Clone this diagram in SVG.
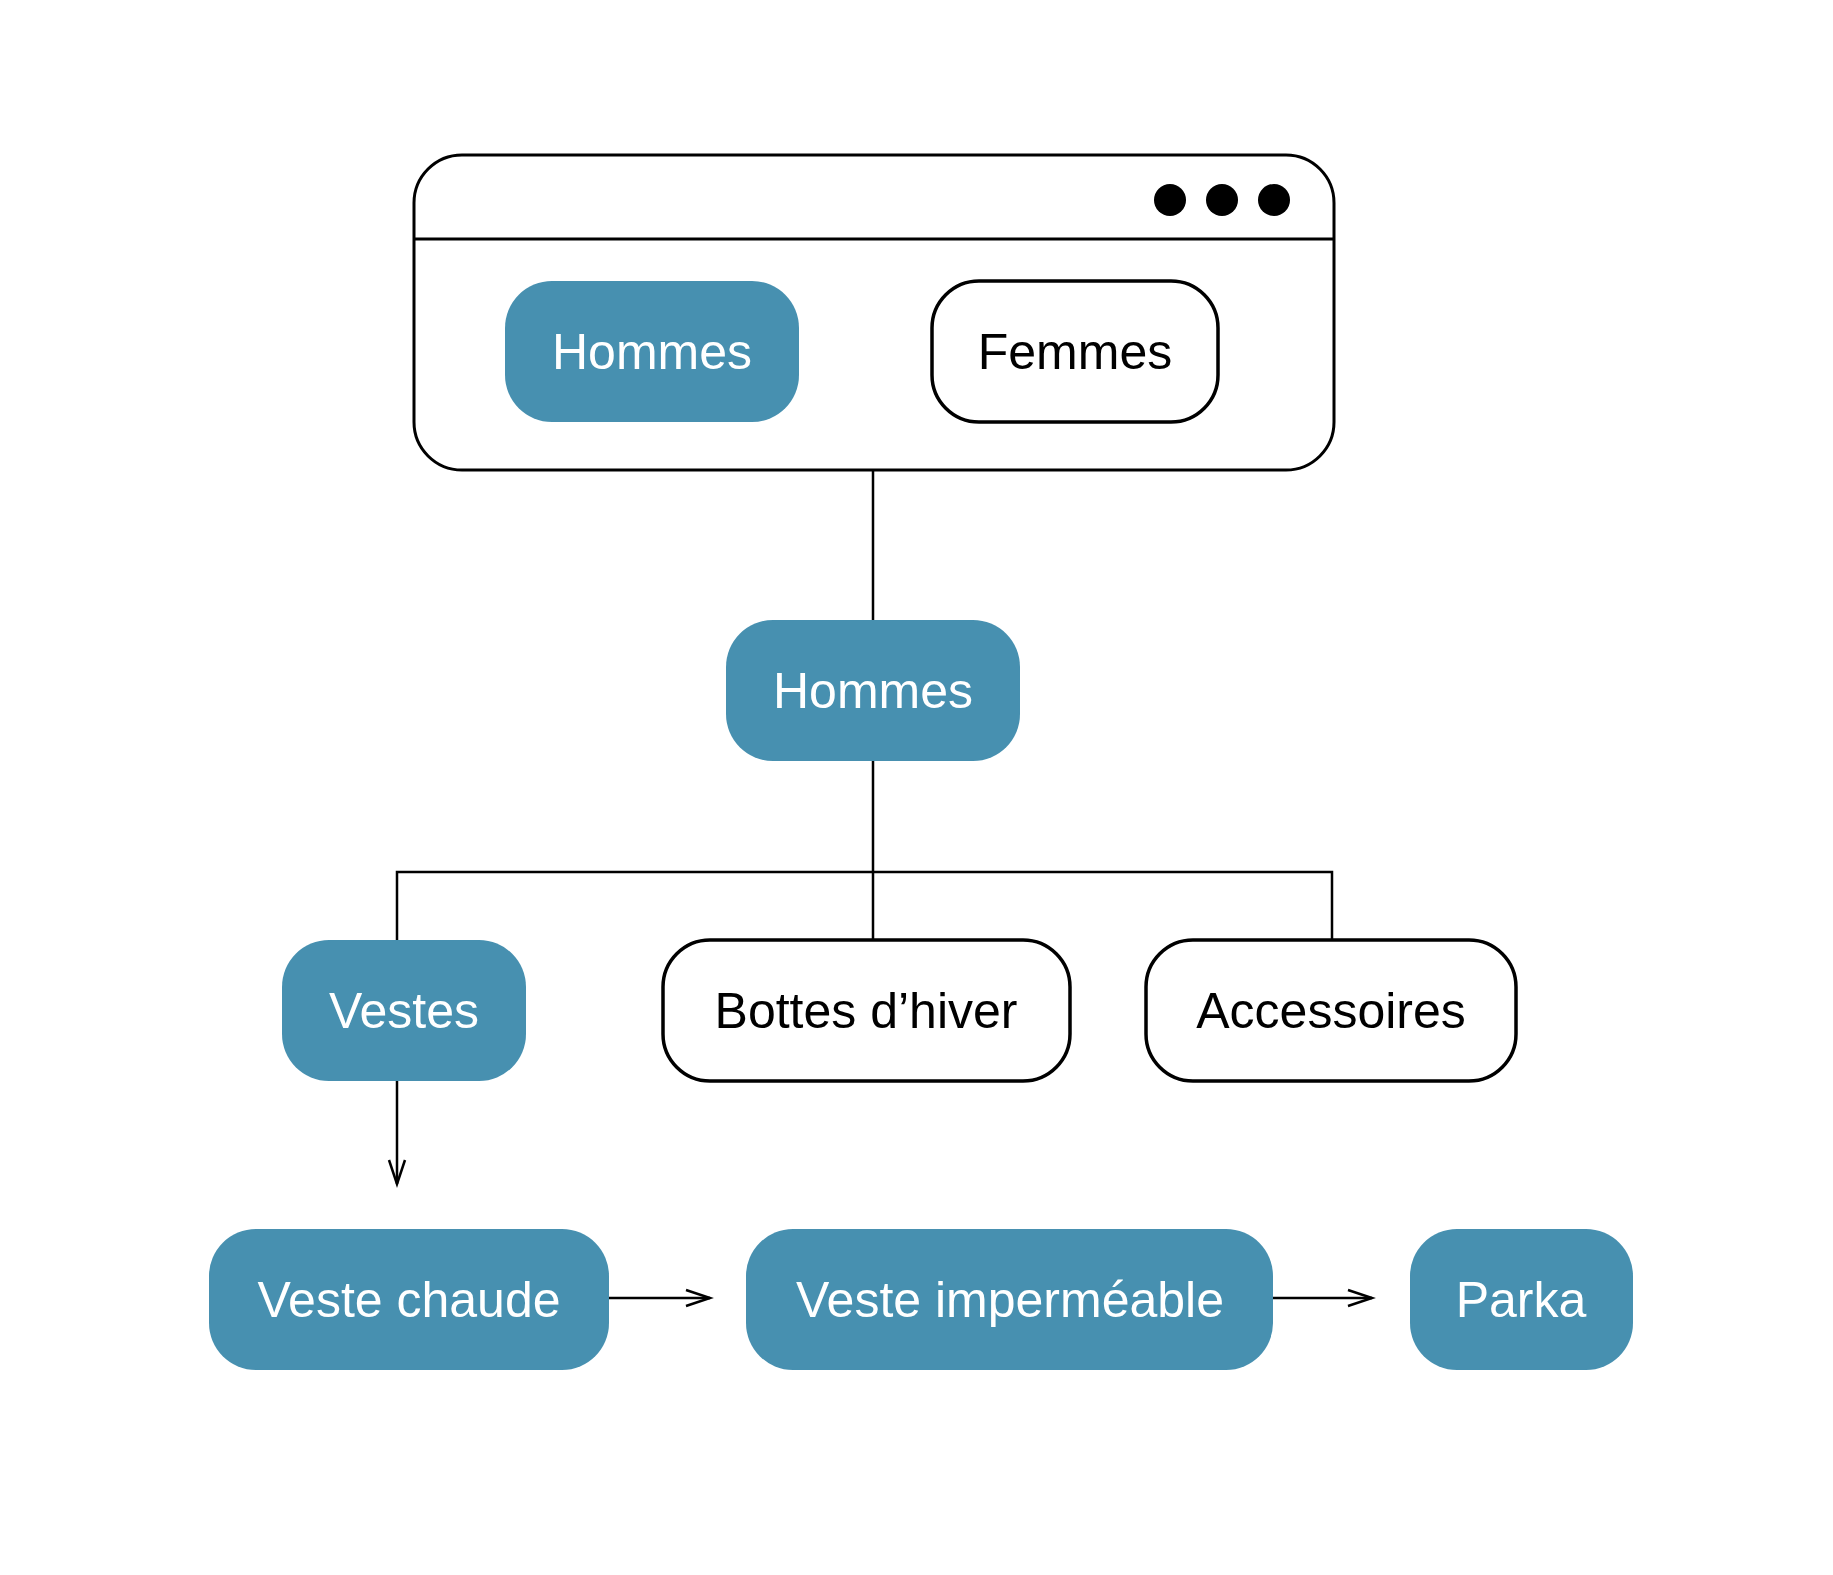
<svg xmlns="http://www.w3.org/2000/svg" width="1833" height="1575" viewBox="0 0 1833 1575">
<style>
.f{fill:#4790b0}
.o{fill:#fff;stroke:#000;stroke-width:3.5}
text{font-family:"Helvetica","Liberation Sans",Arial,sans-serif;font-size:50px;text-anchor:middle;dominant-baseline:central}
.w{fill:#fff}
.k{fill:#000}
.c{stroke:#000;stroke-width:2.5;fill:none}
</style>
<defs><marker id="a" markerWidth="30" markerHeight="20" refX="26" refY="10" orient="auto" markerUnits="userSpaceOnUse"><path d="M2,2 L26,10 L2,18" fill="none" stroke="#000" stroke-width="2.5"/></marker></defs>
<rect width="1833" height="1575" fill="#fff"/>
<g id="window"><rect x="414" y="155" width="920" height="315" rx="48" fill="#fff" stroke="#000" stroke-width="3"/><line x1="414" y1="239" x2="1334" y2="239" stroke="#000" stroke-width="3"/><circle cx="1170" cy="200" r="16"/><circle cx="1222" cy="200" r="16"/><circle cx="1274" cy="200" r="16"/></g>
<g id="tab-hommes"><rect class="f" x="505" y="281" width="294" height="141" rx="47"/><text class="w" x="652" y="352">Hommes</text></g>
<g id="tab-femmes"><rect class="o" x="932" y="281" width="286" height="141" rx="47"/><text class="k" x="1075" y="352">Femmes</text></g>
<g id="connectors">
<path class="c" d="M873,470 V620 M873,761 V940 M397,940 V872 H1332 V940"/>
<path class="c" d="M397,1081 V1184" marker-end="url(#a)"/>
<path class="c" d="M605,1298 H710" marker-end="url(#a)"/>
<path class="c" d="M1269,1298 H1372" marker-end="url(#a)"/>
</g>
<g id="hommes"><rect class="f" x="726" y="620" width="294" height="141" rx="47"/><text class="w" x="873" y="691">Hommes</text></g>
<g id="vestes"><rect class="f" x="282" y="940" width="244" height="141" rx="47"/><text class="w" x="404" y="1011">Vestes</text></g>
<g id="bottes"><rect class="o" x="663" y="940" width="407" height="141" rx="47"/><text class="k" x="866" y="1011">Bottes d’hiver</text></g>
<g id="accessoires"><rect class="o" x="1146" y="940" width="370" height="141" rx="47"/><text class="k" x="1331" y="1011">Accessoires</text></g>
<g id="veste-chaude"><rect class="f" x="209" y="1229" width="400" height="141" rx="47"/><text class="w" x="409" y="1300">Veste chaude</text></g>
<g id="veste-impermeable"><rect class="f" x="746" y="1229" width="527" height="141" rx="47"/><text class="w" x="1010" y="1300">Veste imperméable</text></g>
<g id="parka"><rect class="f" x="1410" y="1229" width="223" height="141" rx="47"/><text class="w" x="1521" y="1300">Parka</text></g>
</svg>
